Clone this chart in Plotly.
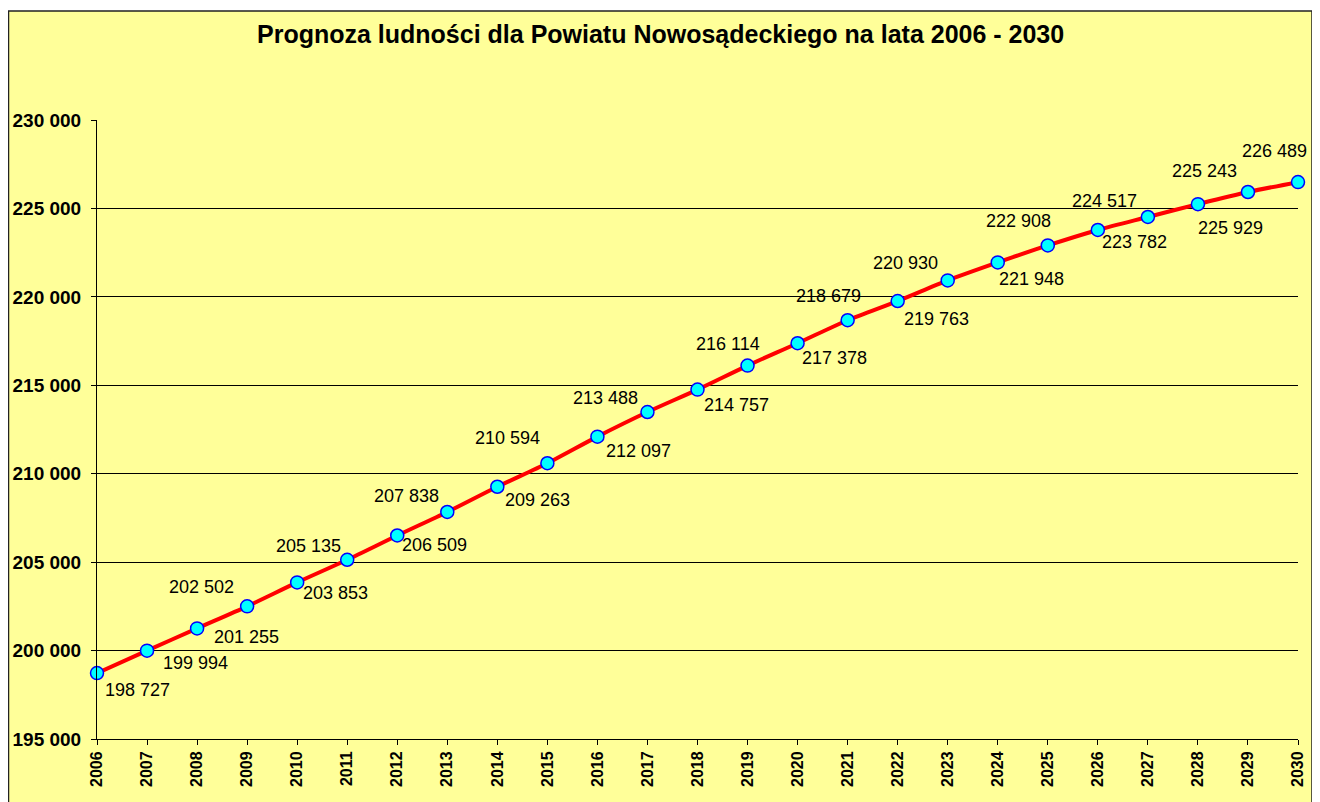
import plotly.graph_objects as go

# ---- data ----
years = list(range(2006, 2031))
population = [198727, 199994, 201255, 202502, 203853, 205135, 206509, 207838,
              209263, 210594, 212097, 213488, 214757, 216114, 217378, 218679,
              219763, 220930, 221948, 222908, 223782, 224517, 225243, 225929,
              226489]
y_tick_vals = [195000, 200000, 205000, 210000, 215000, 220000, 225000, 230000]
y_tick_text = ["195 000", "200 000", "205 000", "210 000", "215 000",
               "220 000", "225 000", "230 000"]
title_text = "Prognoza ludności dla Powiatu Nowosądeckiego na lata 2006 - 2030"

# ---- label placement (screen pixel offsets, dy positive = down) ----
label_dx = [40, 48, 49, -46, 38, -39, 37, -41, 40, -40, 41, -42, 39, -20, 37,
            -19, 39, -42, 34, -29, 37, -43, 7, -17, -24]
label_dy = [17, 12, 9, -19, 11, -14, 10, -16, 13, -25, 14, -14, 15, -22, 15,
            -24, 18, -17, 17, -24, 12, -16, -33, 36, -31]

FONT = "Arial, Liberation Sans, sans-serif"
YELLOW = "#FFFF99"

def fmt(v):
    return f"{v:,}".replace(",", " ")

# page body has an 8px margin; figure is sized/offset to compensate
OFF = 8
W, H = 1320 - OFF, 802 - OFF
L, R, T, B = 97 - OFF, 22, 120 - OFF, 63
pw, ph = W - L - R, H - T - B

def px_x(px):  # page pixel -> paper x
    return (px - OFF - L) / pw

def px_y(py):  # page pixel -> paper y
    return (H - B - (py - OFF)) / ph

fig = go.Figure()
fig.add_trace(go.Scatter(
    x=years, y=population, mode="lines+markers",
    line=dict(color="#FF0000", width=4, shape="spline", smoothing=0.8),
    marker=dict(size=13, color="#00FFFF", line=dict(color="#0000FF", width=1.5)),
    cliponaxis=False, hoverinfo="x+y", showlegend=False,
))

annotations = []
for x, y, dx, dy in zip(years, population, label_dx, label_dy):
    annotations.append(dict(
        x=x, y=y, xref="x", yref="y", text=fmt(y), showarrow=False,
        xshift=dx, yshift=-dy, font=dict(family=FONT, size=18, color="#000000"),
    ))
annotations.append(dict(
    x=px_x(660), y=px_y(34), xref="paper", yref="paper",
    xanchor="center", yanchor="middle",
    text=f"<b>{title_text}</b>", showarrow=False,
    font=dict(family=FONT, size=25, color="#000000"),
))

fig.update_layout(
    width=W, height=H,
    margin=dict(l=L, r=R, t=T, b=B, pad=0, autoexpand=False),
    paper_bgcolor="#FFFFFF", plot_bgcolor=YELLOW,
    annotations=annotations,
    shapes=[dict(
        type="rect", xref="paper", yref="paper", layer="below",
        x0=px_x(8.5), x1=px_x(1312),
        y0=px_y(830), y1=px_y(11),
        fillcolor=YELLOW, line=dict(color="#222222", width=1.5),
    )],
    xaxis=dict(
        range=[2006, 2030], tickmode="linear", tick0=2006, dtick=1,
        tickangle=-90, ticks="outside", ticklen=5, tickcolor="#000000",
        showline=True, linecolor="#000000", linewidth=1, showgrid=False,
        zeroline=False, tickfont=dict(family=FONT, size=16, color="#000000",
                                      weight="bold"),
        fixedrange=True, automargin=False,
    ),
    yaxis=dict(
        range=[195000, 230000], tickvals=y_tick_vals, ticktext=y_tick_text,
        ticks="outside", ticklen=5, tickcolor="#000000",
        showline=True, linecolor="#000000", linewidth=1,
        showgrid=True, gridcolor="#000000", gridwidth=1, zeroline=False,
        tickfont=dict(family=FONT, size=19, color="#000000", weight="bold"),
        ticklabelstandoff=6, fixedrange=True, automargin=False,
    ),
)

fig.write_html("out.html")
